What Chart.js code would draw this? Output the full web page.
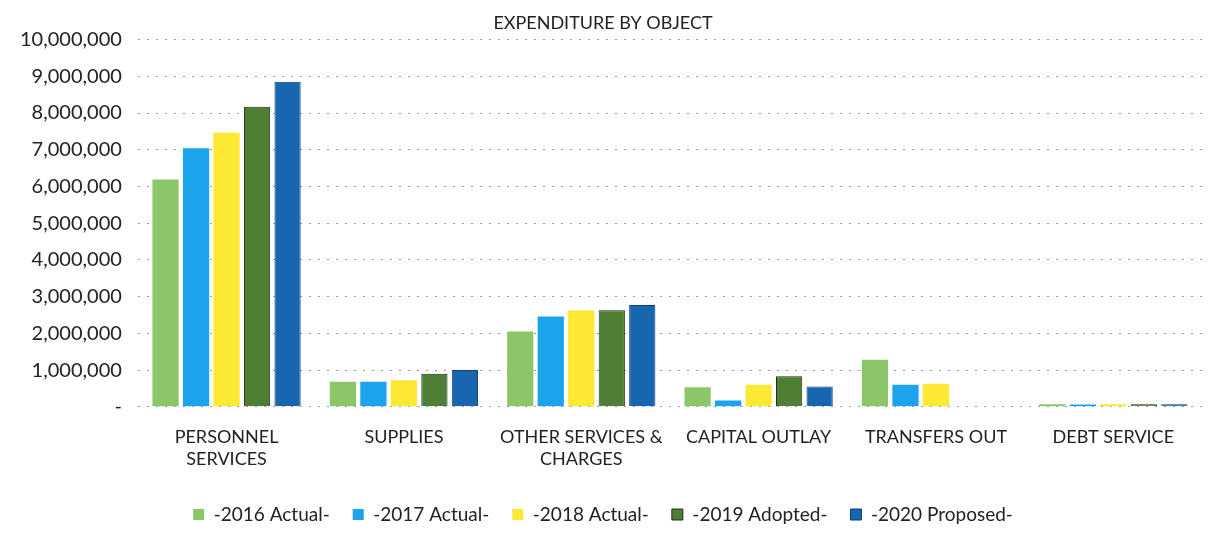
<!DOCTYPE html>
<html>
<head>
<meta charset="utf-8">
<script src="https://cdn.jsdelivr.net/npm/chart.js@4/dist/chart.umd.min.js"></script>
<style>
  html, body { margin: 0; padding: 0; background: #fff; }
  #wrap { width: 1210px; height: 546px; }
</style>
</head>
<body>
<div id="wrap"><canvas id="chart"></canvas></div>
<script>
const categories = [
    ["PERSONNEL", "SERVICES"],
    "SUPPLIES",
    ["OTHER SERVICES &", "CHARGES"],
    "CAPITAL OUTLAY",
    "TRANSFERS OUT",
    "DEBT SERVICE"
];

const actual2016 = [6190000, 680000, 2050000, 530000, 1280000, 70000];
const actual2017 = [7040000, 680000, 2460000, 170000, 600000, 60000];
const actual2018 = [7460000, 720000, 2630000, 600000, 630000, 70000];
const adopted2019 = [8170000, 900000, 2630000, 830000, 0, 70000];
const proposed2020 = [8850000, 1000000, 2770000, 550000, 0, 70000];

const seriesNames = ["-2016 Actual-", "-2017 Actual-", "-2018 Actual-", "-2019 Adopted-", "-2020 Proposed-"];
const seriesColors = ["#8cc66a", "#1ba3ec", "#fde934", "#4f7e35", "#1865b0"];
const seriesBorders = ["#7ab85a", "#1ba3ec", "#fde934", "#1f2f18", "#123f7a"];

const font = "Lato, 'Open Sans', sans-serif";

function renderObjectChart(ctx) {
    const values = [actual2016, actual2017, actual2018, adopted2019, proposed2020];
    new Chart(ctx, {
        type: "bar",
        data: {
            labels: categories,
            datasets: values.map((data, i) => ({
                label: seriesNames[i],
                data: data,
                backgroundColor: seriesColors[i],
                borderColor: seriesBorders[i],
                borderWidth: i >= 3 ? 1 : 0,
                barPercentage: 0.86,
                categoryPercentage: 0.86
            }))
        },
        options: {
            responsive: true,
            maintainAspectRatio: false,
            animation: false,
            layout: { padding: { left: 4, right: 8, top: 8, bottom: 12 } },
            plugins: {
                title: {
                    display: true,
                    text: "EXPENDITURE BY OBJECT",
                    color: "#222",
                    font: { family: font, size: 18, weight: "normal" },
                    padding: { top: 4, bottom: 6 }
                },
                legend: {
                    position: "bottom",
                    labels: {
                        boxWidth: 11,
                        boxHeight: 11,
                        padding: 23,
                        color: "#222",
                        font: { family: font, size: 19 }
                    }
                },
                tooltip: { enabled: false }
            },
            scales: {
                x: {
                    grid: { display: false },
                    border: { display: false },
                    ticks: {
                        color: "#222",
                        padding: 12,
                        font: { family: font, size: 18 },
                        maxRotation: 0,
                        autoSkip: false
                    }
                },
                y: {
                    min: 0,
                    max: 10000000,
                    border: { display: false, dash: [2, 7] },
                    grid: {
                        color: "#9a9a9a",
                        lineWidth: 1,
                        tickLength: 0
                    },
                    ticks: {
                        stepSize: 1000000,
                        color: "#222",
                        padding: 16,
                        font: { family: font, size: 20 },
                        callback: v => v === 0 ? "-" : v.toLocaleString("en-US")
                    }
                }
            }
        }
    });
}

renderObjectChart(document.getElementById("chart"));
</script>
</body>
</html>
